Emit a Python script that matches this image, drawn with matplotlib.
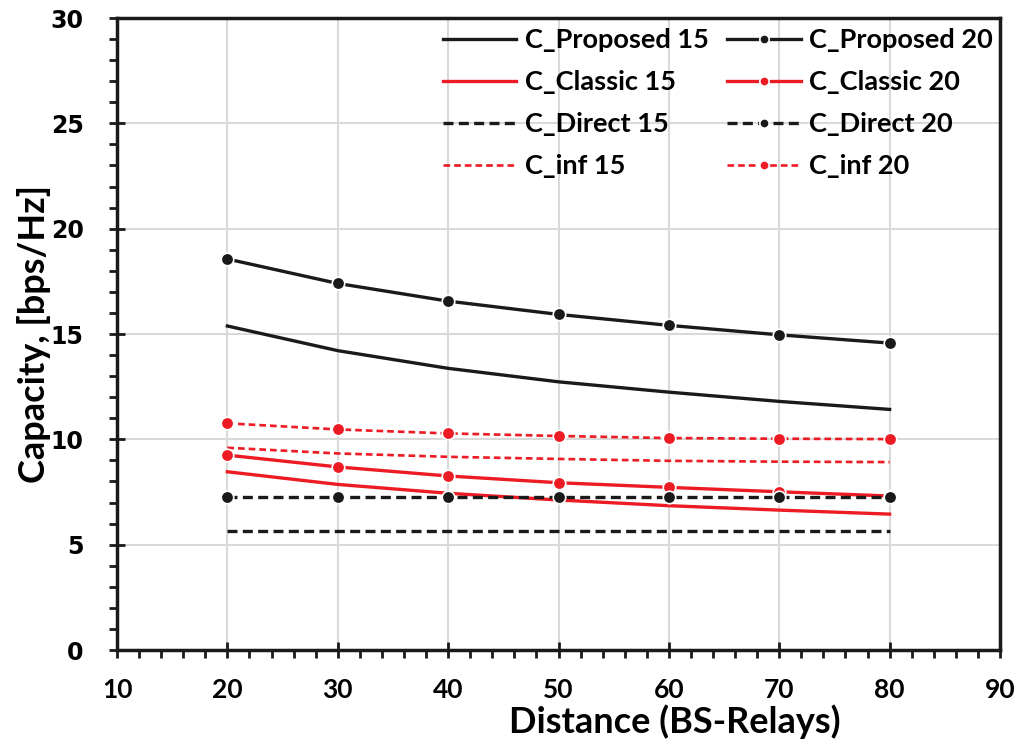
import matplotlib
matplotlib.use("Agg")
import matplotlib.pyplot as plt
from matplotlib.ticker import MultipleLocator

distance = [20, 30, 40, 50, 60, 70, 80]
c_proposed_15 = [15.38, 14.21, 13.37, 12.73, 12.24, 11.80, 11.42]
c_classic_15 = [8.46, 7.86, 7.44, 7.12, 6.85, 6.64, 6.45]
c_direct_15 = [5.65, 5.65, 5.65, 5.65, 5.65, 5.65, 5.65]
c_inf_15 = [9.60, 9.33, 9.17, 9.07, 8.98, 8.94, 8.92]
c_proposed_20 = [18.56, 17.40, 16.56, 15.93, 15.41, 14.96, 14.57]
c_classic_20 = [9.25, 8.69, 8.26, 7.94, 7.72, 7.51, 7.31]
c_direct_20 = [7.28, 7.28, 7.28, 7.28, 7.28, 7.28, 7.28]
c_inf_20 = [10.76, 10.47, 10.28, 10.16, 10.06, 10.03, 10.01]

RED = "#ed1c24"
BLK = "#1a1a1a"

plt.rcParams['font.family'] = ['Lato', 'DejaVu Sans']
plt.rcParams['font.weight'] = 'bold'

fig = plt.figure(figsize=(10.2, 7.47), dpi=100)
ax = fig.add_axes([117/1020, 1-650/747, (1000-117)/1020, (650-18)/747])

lw = 2.4
ax.plot(distance, c_proposed_15, color=BLK, lw=lw, label="C_Proposed 15")
ax.plot(distance, c_classic_15, color=RED, lw=lw, label="C_Classic 15")
ax.plot(distance, c_direct_15, color=BLK, lw=lw, ls=(0, (3, 1.6)), label="C_Direct 15")
ax.plot(distance, c_inf_15, color=RED, lw=lw*0.8, ls=(0, (2.5, 1.5)), label="C_inf 15")

mk = dict(marker='o', markersize=9, markeredgecolor='white', markeredgewidth=1.2)
ax.plot(distance, c_proposed_20, color=BLK, lw=lw, label="C_Proposed 20", markerfacecolor=BLK, **mk)
ax.plot(distance, c_classic_20, color=RED, lw=lw, label="C_Classic 20", markerfacecolor=RED, **mk)
ax.plot(distance, c_direct_20, color=BLK, lw=lw, ls=(0, (3, 1.6)), label="C_Direct 20", markerfacecolor=BLK, **mk)
ax.plot(distance, c_inf_20, color=RED, lw=lw*0.8, ls=(0, (2.5, 1.5)), label="C_inf 20", markerfacecolor=RED, **mk)

ax.set_xlim(10, 90)
ax.set_ylim(0, 30)
ax.xaxis.set_major_locator(MultipleLocator(10))
ax.xaxis.set_minor_locator(MultipleLocator(2))
ax.yaxis.set_major_locator(MultipleLocator(5))
ax.yaxis.set_minor_locator(MultipleLocator(1))
ax.grid(True, which='major', color='#d9d9d9', lw=1.5)
ax.set_axisbelow(True)
for s in ax.spines.values():
    s.set_linewidth(2.5)
    s.set_color(BLK)
ax.tick_params(which='major', direction='inout', length=12, width=2, color=BLK)
ax.tick_params(which='minor', direction='out', length=6, width=2, color=BLK)
ax.tick_params(axis='x', which='both', top=False, labelsize=19, pad=14)
ax.tick_params(axis='y', which='both', right=False, labelsize=17, pad=18)
for lab in ax.get_xticklabels():
    lab.set_fontweight('bold')
for lab in ax.get_yticklabels():
    lab.set_fontweight('bold')
    lab.set_family('DejaVu Sans')

ax.set_xlabel("Distance (BS-Relays)", fontsize=26, fontweight='bold')
ax.xaxis.set_label_coords((675-117)/(1000-117), -(704-650)/(650-18))
ax.set_ylabel("Capacity, [bps/Hz]", fontsize=26, fontweight='bold')
ax.yaxis.set_label_coords(-(117-51)/(1000-117), 0.5)

leg = ax.legend(ncol=2, loc='upper right', bbox_to_anchor=(1.019, 1.022), frameon=False,
                handlelength=2.7, handletextpad=0.3, columnspacing=0.7,
                labelspacing=0.66, markerscale=0.75, prop={'weight': 'bold', 'size': 19.5})

fig.savefig("out.png", dpi=100)
